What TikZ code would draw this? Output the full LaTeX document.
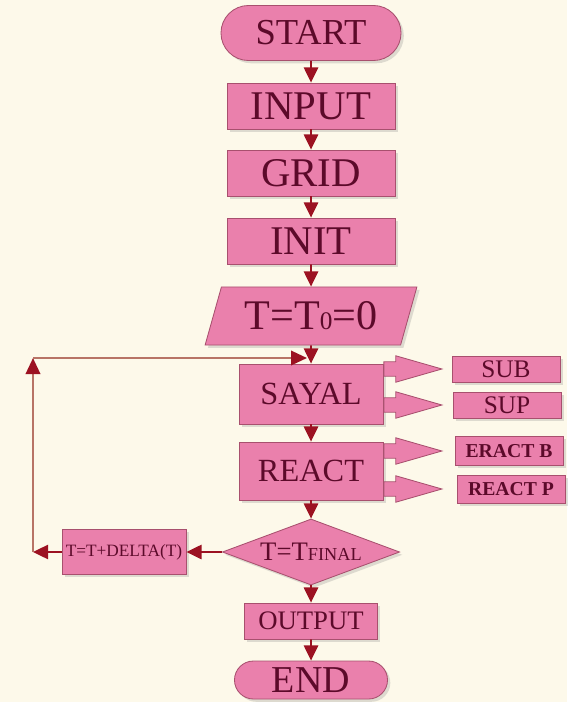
\documentclass[tikz,border=0pt]{standalone}
\usepackage{fontspec}
\setmainfont{Liberation Serif}
\usetikzlibrary{arrows.meta, shapes.geometric, shapes.misc, shapes.arrows, shadows}
\definecolor{bgcream}{HTML}{FDF9EA}
\definecolor{boxpink}{HTML}{EA80AC}
\definecolor{boxedge}{HTML}{A8506E}
\definecolor{textmaroon}{HTML}{5C0A2A}
\definecolor{headred}{HTML}{9C1222}
\definecolor{loopbrown}{HTML}{B87466}

\tikzset{
  box/.style={draw=boxedge, fill=boxpink, text=textmaroon, line width=0.6pt, inner sep=0pt,
    drop shadow={shadow xshift=0.07cm, shadow yshift=-0.07cm, opacity=0.25}},
  flow/.style={draw=headred, line width=1.2pt, -{Triangle[length=0.38cm, width=0.36cm]}},
  loopline/.style={draw=loopbrown, line width=1.6pt, -{Triangle[length=0.4cm, width=0.36cm, color=headred]}},
  blockarrow/.style={single arrow, draw=boxedge, fill=boxpink, line width=0.6pt, anchor=tail,
    minimum height=1.45cm, inner sep=0.17cm, single arrow head extend=0.15cm,
    single arrow tip angle=32},
}

\begin{document}
\begin{tikzpicture}[x=0.025cm, y=-0.025cm]
  \useasboundingbox (0,0) rectangle (567,702);
  \fill[bgcream] (0,0) rectangle (567,702);

  % --- main column ---
  \node[rounded rectangle, box, minimum width=4.5cm, minimum height=1.375cm,
    font=\fontsize{26}{26}\selectfont] (start) at (311,33) {START};
  \node[box, minimum width=4.2cm, minimum height=1.15cm,
    font=\fontsize{29}{29}\selectfont] (input) at (311,106) {INPUT};
  \node[box, minimum width=4.2cm, minimum height=1.15cm,
    font=\fontsize{29}{29}\selectfont] (grid) at (311,173) {GRID};
  \node[box, minimum width=4.2cm, minimum height=1.15cm,
    font=\fontsize{29}{29}\selectfont] (init) at (311,241) {INIT};
  \node[trapezium, trapezium left angle=67, trapezium right angle=113, trapezium stretches=true,
    box, minimum width=5.3cm, minimum height=1.45cm,
    font=\fontsize{30}{30}\selectfont] (tzero) at (311,316) {T=T{\fontsize{18}{18}\selectfont 0}=0};
  \node[box, minimum width=3.6cm, minimum height=1.5cm,
    font=\fontsize{23}{23}\selectfont] (sayal) at (311,394) {SAYAL};
  \node[box, minimum width=3.6cm, minimum height=1.45cm,
    font=\fontsize{23}{23}\selectfont] (react) at (311,471) {REACT};
  \node[diamond, box, aspect=2.7, minimum width=4.43cm, minimum height=1.65cm,
    font=\fontsize{19}{19}\selectfont] (check) at (311,552) {T=T{\fontsize{13}{13}\selectfont FINAL}};
  \node[box, minimum width=3.325cm, minimum height=0.9cm,
    font=\fontsize{19}{19}\selectfont] (output) at (311,621) {OUTPUT};
  \node[rounded rectangle, box, minimum width=3.825cm, minimum height=0.95cm,
    font=\fontsize{27}{27}\selectfont] (end) at (311,680) {END};

  % --- side boxes ---
  \node[box, minimum width=2.7cm, minimum height=0.65cm,
    font=\fontsize{18}{18}\selectfont] (sub) at (506,369) {SUB};
  \node[box, minimum width=2.7cm, minimum height=0.65cm,
    font=\fontsize{18}{18}\selectfont] (sup) at (507,405) {SUP};
  \node[box, minimum width=2.7cm, minimum height=0.72cm,
    font=\fontsize{14}{14}\selectfont\bfseries] (eractb) at (509,451) {ERACT B};
  \node[box, minimum width=2.7cm, minimum height=0.7cm,
    font=\fontsize{14}{14}\selectfont\bfseries] (reactp) at (511,489) {REACT P};
  \node[box, minimum width=3.1cm, minimum height=1.125cm,
    font=\fontsize{12.3}{12.3}\selectfont] (delta) at (124,552) {T=T+DELTA(T)};

  % --- flow arrows ---
  \draw[flow] (start) -- (input);
  \draw[flow] (input) -- (grid);
  \draw[flow] (grid) -- (init);
  \draw[flow] (init) -- (tzero);
  \draw[flow] (tzero) -- (sayal);
  \draw[flow] (sayal) -- (react);
  \draw[flow] (react) -- (check);
  \draw[flow] (check) -- (output);
  \draw[flow] (output) -- (end);

  % --- block arrows to the side boxes ---
  \path (sayal.east |- sub) node[blockarrow] (tosub) {};
  \path (sayal.east |- sup) node[blockarrow] (tosup) {};
  \path (react.east |- eractb) node[blockarrow] (toeractb) {};
  \path (react.east |- reactp) node[blockarrow] (toreactp) {};

  % --- loop back ---
  \coordinate (loopbot) at (33,552);
  \coordinate (looptop) at (33,358);
  \coordinate (loopin) at (307,358);
  \draw[flow] (check) -- (delta);
  \draw[flow] (delta) -- (loopbot);
  \draw[loopline] (loopbot) -- (looptop);
  \draw[loopline] (looptop) -- (loopin);
\end{tikzpicture}
\end{document}
